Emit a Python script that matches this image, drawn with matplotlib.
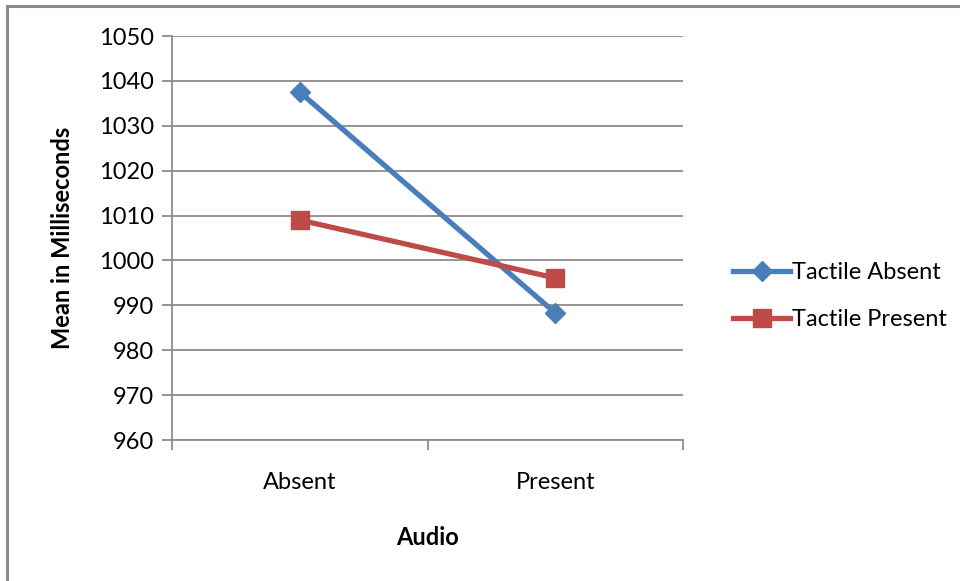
import matplotlib.pyplot as plt
from matplotlib.patches import Rectangle
from matplotlib.lines import Line2D

plt.rcParams['font.family'] = ['Lato', 'DejaVu Sans']

# data
audio = ['Absent', 'Present']
tactile_absent = [1037.5, 988.3]
tactile_present = [1009.0, 996.1]
y_ticks = [960, 970, 980, 990, 1000, 1010, 1020, 1030, 1040, 1050]

W, H = 960, 581
fig = plt.figure(figsize=(W / 100, H / 100), dpi=100)

# chart frame (runs off the right and bottom edges)
fig.patches.append(Rectangle((7 / W, -0.05), 1.1, 1 - 6 / H + 0.05,
                             transform=fig.transFigure, fill=False,
                             edgecolor='#8c8c8c', linewidth=2.2))

ax = fig.add_axes([172 / W, 1 - 440 / H, (683 - 172) / W, (440 - 36) / H])

x = list(range(len(audio)))
ax.plot(x, tactile_absent, color='#4a7ebb', linewidth=3.8, marker='D',
        markersize=10, label='Tactile Absent', zorder=3)
ax.plot(x, tactile_present, color='#be4b48', linewidth=3.8, marker='s',
        markersize=13, label='Tactile Present', zorder=3)

ax.set_xlim(-0.5, 1.5)
ax.set_ylim(960, 1050)
ax.set_yticks(y_ticks)
ax.set_yticklabels([str(v) for v in y_ticks])
ax.grid(axis='y', color='#8c8c8c', linewidth=1.3)
ax.set_axisbelow(True)

# category labels between boundary ticks
ax.set_xticks([-0.5, 0.5, 1.5])
ax.set_xticklabels([])
ax.set_xticks(x, minor=True)
ax.set_xticklabels(audio, minor=True)
ax.tick_params(axis='x', which='minor', length=0, pad=23, labelsize=17)
ax.tick_params(axis='x', which='major', length=7, width=1.3, color='#8c8c8c')
ax.tick_params(axis='y', length=7, width=1.3, color='#8c8c8c', labelsize=17, pad=6)

for s in ['top', 'right']:
    ax.spines[s].set_visible(False)
for s in ['left', 'bottom']:
    ax.spines[s].set_color('#8c8c8c')
    ax.spines[s].set_linewidth(1.3)

ax.set_xlabel('Audio', fontsize=17, fontweight='bold', labelpad=24)
ax.set_ylabel('Mean in Milliseconds', fontsize=17, fontweight='bold', labelpad=18)

handles = [Line2D([], [], color='#4a7ebb', linewidth=3.8, marker='D', markersize=10),
           Line2D([], [], color='#be4b48', linewidth=3.8, marker='s', markersize=13)]
fig.legend(handles, ['Tactile Absent', 'Tactile Present'], loc='center left',
           bbox_to_anchor=(712 / W, 1 - 296 / H), frameon=False, fontsize=17,
           handlelength=2.4, handletextpad=0.1, labelspacing=1.1)

fig.savefig('out.png', dpi=100)
